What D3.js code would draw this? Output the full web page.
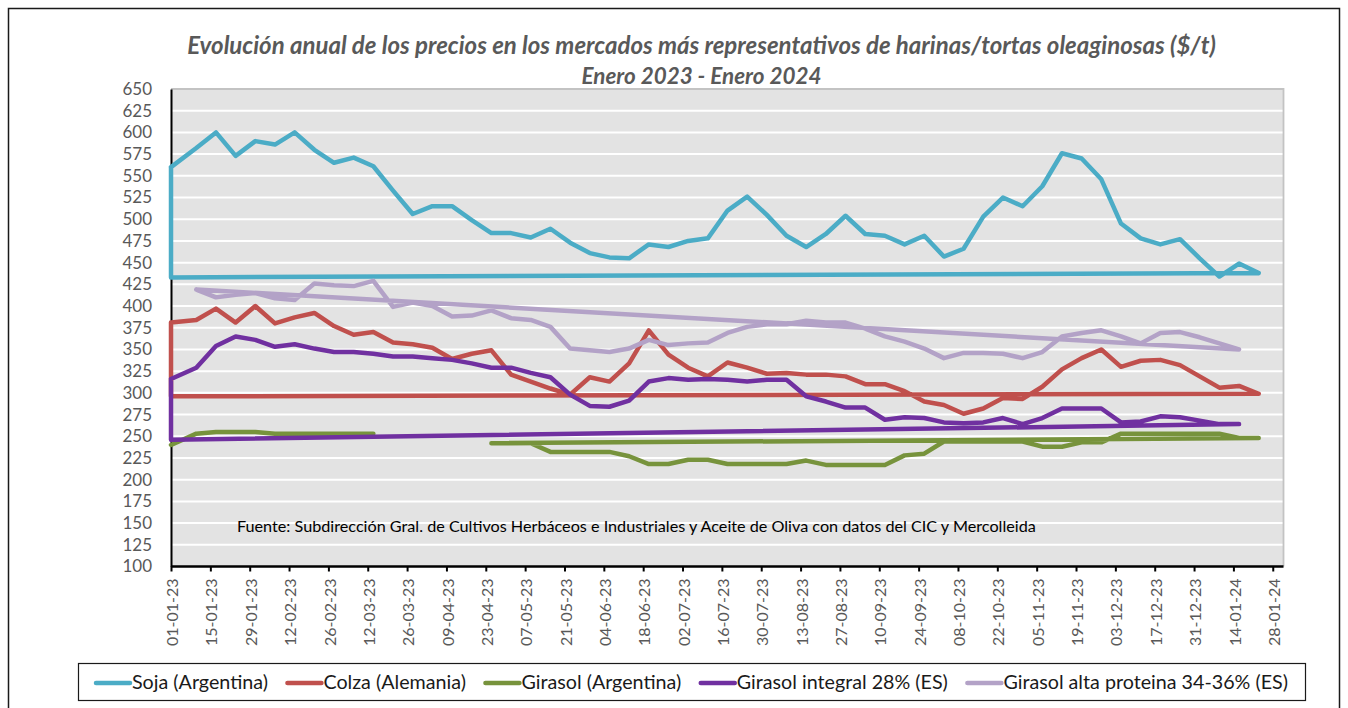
<!DOCTYPE html>
<html><head><meta charset="utf-8">
<script src="https://cdn.jsdelivr.net/npm/d3@7"></script>
<style>
body{margin:0;background:#fff;}
svg{display:block;}
text{font-family:Lato,"Liberation Sans",sans-serif;}
</style>
</head><body>
<svg id="chart" width="1348" height="708"></svg>
<script>
// ---------------- DATA ----------------
const dates = ["2023-01-01","2023-01-10","2023-01-17","2023-01-24","2023-01-31","2023-02-07","2023-02-14","2023-02-21","2023-02-28",
"2023-03-07","2023-03-14","2023-03-21","2023-03-28","2023-04-04","2023-04-11","2023-04-18","2023-04-25","2023-05-02","2023-05-09",
"2023-05-16","2023-05-23","2023-05-30","2023-06-06","2023-06-13","2023-06-20","2023-06-27","2023-07-04","2023-07-11","2023-07-18",
"2023-07-25","2023-08-01","2023-08-08","2023-08-15","2023-08-22","2023-08-29","2023-09-05","2023-09-12","2023-09-19","2023-09-26",
"2023-10-03","2023-10-10","2023-10-17","2023-10-24","2023-10-31","2023-11-07","2023-11-14","2023-11-21","2023-11-28","2023-12-05",
"2023-12-12","2023-12-19","2023-12-26","2024-01-02","2024-01-09","2024-01-16","2024-01-23"];

const soja = [560,582,600,573,590,586,600,580,565,571,561,533,506,515,515,499,484,
484,479,489,473,461,456,455,471,468,475,478,510,526,505,481,468,483,504,483,481,
471,481,457,466,503,525,515,538,576,570,546,495,478,471,477,455,434,449,438];

const colza = [381,384,397,381,400,380,387,392,377,367,370,358,356,352,339,345,349,
321,313,305,298,318,313,334,372,344,329,319,335,329,322,323,321,321,319,310,310,
302,290,286,276,282,294,293,307,327,340,350,330,337,338,332,319,306,308,299];

const girasolArg = [240,253,255,255,255,253,253,253,253,253,253,
null,null,null,null,null,
242,242,242,232,232,232,232,227,218,218,223,223,218,218,218,218,222,217,217,217,217,
228,230,244,244,244,244,244,238,238,243,243,253,253,253,253,253,253,248,248];

const girasolIntegral = [316,329,354,365,361,353,356,351,347,347,345,342,342,340,338,334,329,
329,323,318,298,285,284,291,313,317,315,316,315,313,315,315,296,290,283,283,269,
272,271,266,265,266,271,264,271,282,282,282,266,267,273,272,268,264,264,null];

const girasolAlta = [null,419,410,413,415,409,407,426,424,423,429,399,404,400,388,389,395,
386,384,376,351,349,347,351,361,355,357,358,369,376,379,379,383,381,381,374,365,
359,351,340,346,346,345,340,347,365,369,372,365,357,369,370,364,357,350,null];

// value where each series' return line meets the first date (null = no return point)
const returnValues = [433, 296, null, 246, null];

const seriesNames = ["Soja (Argentina)","Colza (Alemania)","Girasol (Argentina)","Girasol integral 28% (ES)","Girasol alta proteina 34-36% (ES)"];
const seriesColors = ["#4bacc6","#c0504d","#77933c","#7030a0","#b3a2c7"];
const seriesValues = [soja, colza, girasolArg, girasolIntegral, girasolAlta];

const yTickValues = [100,125,150,175,200,225,250,275,300,325,350,375,400,425,450,475,500,525,550,575,600,625,650];
const xTickLabels = ["01-01-23","15-01-23","29-01-23","12-02-23","26-02-23","12-03-23","26-03-23","09-04-23","23-04-23",
"07-05-23","21-05-23","04-06-23","18-06-23","02-07-23","16-07-23","30-07-23","13-08-23","27-08-23","10-09-23","24-09-23",
"08-10-23","22-10-23","05-11-23","19-11-23","03-12-23","17-12-23","31-12-23","14-01-24","28-01-24"];
const xDomain = ["2023-01-01","2024-02-01"];

const titleLines = ["Evolución anual de los precios en los mercados más representativos de harinas/tortas oleaginosas ($/t)","Enero 2023 - Enero 2024"];
const sourceText = "Fuente: Subdirección Gral. de Cultivos Herbáceos e Industriales y Aceite de Oliva con datos del CIC y Mercolleida";

// ---------------- CHART ----------------
const svg = d3.select("#chart");
const parseISO = d3.timeParse("%Y-%m-%d");
const parseTick = d3.timeParse("%d-%m-%y");
const fmtTick = d3.timeFormat("%d-%m-%y");

const L = 171, R = 1283.5, T = 89, B = 566.5;
const x = d3.scaleTime().domain(xDomain.map(parseISO)).range([L, 1284]);
const y = d3.scaleLinear().domain([100, 650]).range([B, T]);

function fit(sel, target){
  const w = sel.node().getComputedTextLength();
  const fs = parseFloat(sel.attr("font-size"));
  sel.attr("font-size", (fs * target / w).toFixed(2));
}

// outer frame
svg.append("rect").attr("x",8.5).attr("y",8.5).attr("width",1331).attr("height",730)
  .attr("fill","none").attr("stroke","#1a1a1a").attr("stroke-width",1.5);

// plot background
svg.append("rect").attr("x",L).attr("y",T).attr("width",R-L).attr("height",B-T).attr("fill","#e3e3e3");

// gridlines
svg.append("g").selectAll("line").data(yTickValues.filter(v=>v!==100 && v!==650)).join("line")
  .attr("x1",L).attr("x2",R).attr("y1",d=>y(d)).attr("y2",d=>y(d))
  .attr("stroke","#ffffff").attr("stroke-width",2);

// plot border top/right
svg.append("path").attr("d",`M${L},${T}H${R}V${B}`).attr("fill","none").attr("stroke","#c3c3c3").attr("stroke-width",1.8);

// title
titleLines.forEach((t,i)=>{
  const tx = svg.append("text").attr("x",701.5).attr("y",i===0?54:84).attr("text-anchor","middle")
    .attr("font-size",19).attr("font-weight","bold").attr("font-style","italic").attr("fill","#595959").text(t);
  fit(tx, i===0?1029:240);
});

// y axis
const yAxis = svg.append("g").attr("transform",`translate(${L},0)`)
  .call(d3.axisLeft(y).tickValues(yTickValues).tickSize(0).tickPadding(19));
yAxis.select(".domain").attr("stroke","#000").attr("stroke-width",2);
yAxis.selectAll("text").attr("font-size",17).attr("fill","#595959").attr("font-family","Lato, 'Liberation Sans', sans-serif");

// x axis
const xAxis = svg.append("g").attr("transform",`translate(0,${B})`)
  .call(d3.axisBottom(x).tickValues(xTickLabels.map(parseTick)).tickFormat(fmtTick).tickSize(5).tickSizeOuter(0));
xAxis.select(".domain").attr("stroke","#000").attr("stroke-width",2.5).attr("d",`M${L},0H${R}`);
xAxis.selectAll(".tick line").attr("stroke","#000").attr("stroke-width",2);
xAxis.selectAll("text").attr("font-size",16).attr("fill","#595959")
  .attr("font-family","Lato, 'Liberation Sans', sans-serif")
  .attr("text-anchor","end").attr("transform","rotate(-90)")
  .attr("x",-12).attr("y",1).attr("dy","0.35em");

// source text
const src = svg.append("text").attr("x",237).attr("y",532).attr("font-size",15).attr("fill","#000").text(sourceText);
fit(src, 800);

// series
const lineGen = d3.line().defined(p=>p.v!=null).x(p=>x(p.d)).y(p=>y(p.v));
const plain = d3.line().x(p=>x(p.d)).y(p=>y(p.v));
const dateObjs = dates.map(parseISO);

seriesValues.forEach((vals,si)=>{
  const pts = vals.map((v,i)=>({d:dateObjs[i], v}));
  let last = pts.length-1; while(pts[last].v==null) last--;
  let start = last; while(start>0 && pts[start-1].v!=null) start--;
  const ret = [pts[last]];
  if(returnValues[si]!=null) ret.push({d:dateObjs[0], v:returnValues[si]});
  ret.push(pts[start]);
  svg.append("path").attr("d", lineGen(pts) + plain(ret))
    .attr("fill","none").attr("stroke",seriesColors[si]).attr("stroke-width",4.5)
    .attr("stroke-linejoin","round").attr("stroke-linecap","round");
});

// legend
svg.append("rect").attr("x",78.5).attr("y",663.5).attr("width",1227).attr("height",37)
  .attr("fill","#fff").attr("stroke","#1a1a1a").attr("stroke-width",1.2);
const legG = svg.append("g");
const items = seriesNames.map((n,i)=>{
  const g = legG.append("g");
  g.append("line").attr("x1",0).attr("x2",34).attr("y1",683).attr("y2",683)
    .attr("stroke",seriesColors[i]).attr("stroke-width",4.5).attr("stroke-linecap","round");
  const t = g.append("text").attr("x",36).attr("y",689).attr("font-size",16).attr("fill","#1a1a1a").text(n);
  return {g,t};
});
fit(items[0].t, 136);
const legFs = items[0].t.attr("font-size");
items.forEach(it=>it.t.attr("font-size",legFs));
const widths = items.map(it=>36 + it.t.node().getComputedTextLength());
const legStart = 96, legEnd = 1288;
const gap = (legEnd - legStart - d3.sum(widths)) / (items.length-1);
let cx = legStart;
items.forEach((it,i)=>{ it.g.attr("transform",`translate(${cx},0)`); cx += widths[i] + gap; });
</script>
</body></html>
